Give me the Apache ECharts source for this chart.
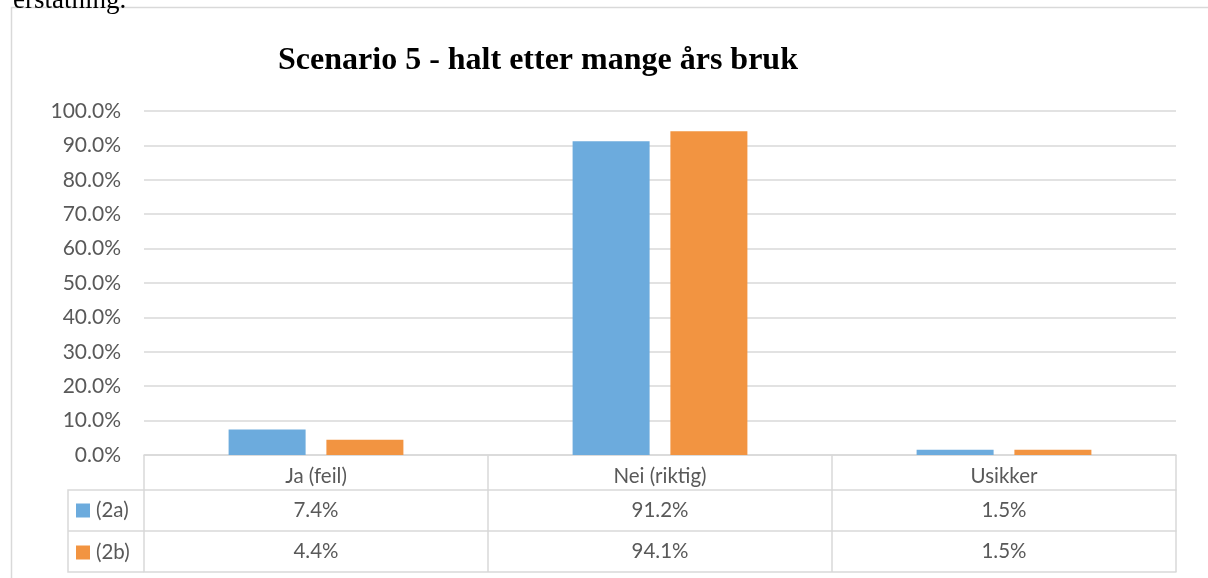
<!DOCTYPE html>
<html>
<head>
<meta charset="utf-8">
<style>
  html, body { margin: 0; padding: 0; background: #fff; }
  #chart { width: 1208px; height: 578px; }
</style>
<script src="https://cdn.jsdelivr.net/npm/echarts@6/dist/echarts.min.js"></script>
</head>
<body>
<div id="chart"></div>
<script>
// data
const categories = ['Ja (feil)', 'Nei (riktig)', 'Usikker']
const seriesNames = ['(2a)', '(2b)']
const values2a = [7.4, 91.2, 1.5]
const values2b = [4.4, 94.1, 1.5]
const yTicks = { min: 0, max: 100, interval: 10 }

const GRID = '#d9d9d9'
const TXT = '#595959'
const FONT = 'Lato, "Open Sans", sans-serif'

const pct = v => v.toFixed(1) + '%'

const chart = echarts.init(document.getElementById('chart'))

// one category axis per table row; lines of the axes make the table rules
function tableAxis(offset, labels, margin, extra) {
  return Object.assign({
    type: 'category',
    data: categories,
    position: 'bottom',
    offset: offset,
    axisLine: { show: true, lineStyle: { color: GRID, width: 1.5 } },
    axisTick: { show: false },
    axisLabel: labels ? {
      show: true, interval: 0, margin: margin,
      color: TXT, fontFamily: FONT, fontSize: 20.5,
      formatter: (v, i) => labels[i]
    } : { show: false },
    splitLine: { show: false }
  }, extra || {})
}

chart.setOption({
  animation: false,
  title: {
    text: 'Scenario 5 - halt etter mange års bruk',
    left: 533, textAlign: 'center', top: 40,
    textStyle: { fontFamily: '"Liberation Serif", "Times New Roman", serif', fontWeight: 'bold', fontSize: 32, color: '#000' }
  },
  legend: {
    orient: 'vertical', left: 76, top: 500, padding: 0,
    itemWidth: 14, itemHeight: 14, itemGap: 21,
    icon: 'rect', selectedMode: false,
    textStyle: { color: TXT, fontFamily: FONT, fontSize: 20.5, lineHeight: 20, padding: [0, 0, 0, 1] },
    data: seriesNames
  },
  grid: { left: 144, right: 32, top: 111, bottom: 123 },
  xAxis: [
    tableAxis(0, categories, 11, {
      axisTick: { show: true, interval: 0, length: 117, lineStyle: { color: GRID, width: 1.5 } }
    }),
    tableAxis(35, values2a.map(pct), 10),
    tableAxis(76, values2b.map(pct), 10),
    tableAxis(117, null, 0)
  ],
  yAxis: {
    type: 'value', min: yTicks.min, max: yTicks.max, interval: yTicks.interval,
    axisLine: { show: false }, axisTick: { show: false },
    axisLabel: { color: TXT, fontFamily: FONT, fontSize: 21, margin: 23, formatter: v => pct(v) },
    splitLine: { lineStyle: { color: GRID, width: 1.5 } }
  },
  series: [
    { name: seriesNames[0], type: 'bar', data: values2a, barWidth: 77, barGap: '27%', itemStyle: { color: '#6cabdd' } },
    { name: seriesNames[1], type: 'bar', data: values2b, barWidth: 77, itemStyle: { color: '#f29441' } }
  ],
  graphic: [
    // outer chart frame
    { type: 'rect', shape: { x: 11.5, y: 7.5, width: 1210, height: 600 }, style: { fill: null, stroke: GRID, lineWidth: 1.5 }, z: -1 },
    // legend column of the data table
    { type: 'polyline', shape: { points: [[144, 490], [68, 490], [68, 572], [144, 572]] }, style: { fill: null, stroke: GRID, lineWidth: 1.5 } },
    { type: 'line', shape: { x1: 68, y1: 531, x2: 144, y2: 531 }, style: { stroke: GRID, lineWidth: 1.5 } },
    // cut-off text of the surrounding document
    { type: 'text', left: 13, top: -13, style: { text: 'erstatning.', font: '27px "Liberation Serif", serif', fill: '#000' } }
  ]
})
</script>
</body>
</html>
